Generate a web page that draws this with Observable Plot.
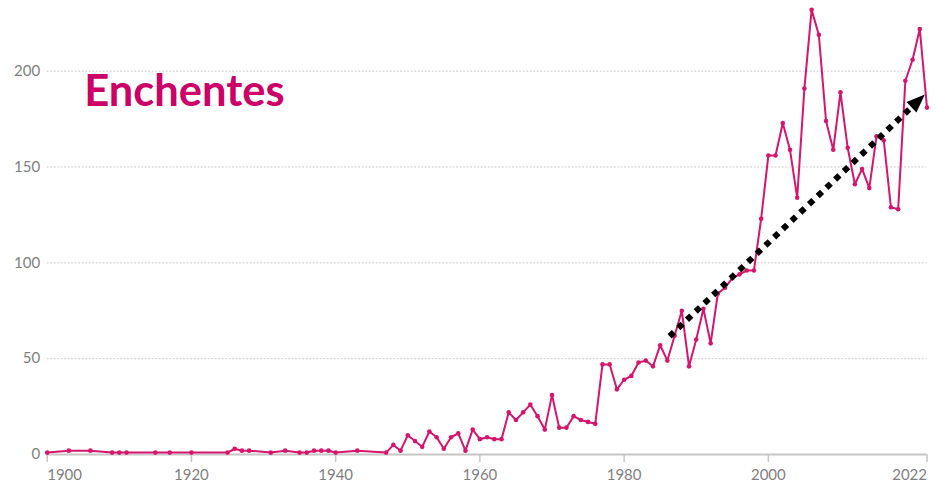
<!DOCTYPE html>
<html>
<head>
<meta charset="utf-8">
<script src="https://cdn.jsdelivr.net/npm/d3@7"></script>
<script src="https://cdn.jsdelivr.net/npm/@observablehq/plot@0.6"></script>
<style>
  html, body { margin: 0; padding: 0; background: #fff; }
  #chart { width: 936px; height: 485px; }
</style>
</head>
<body>
<div id="chart"></div>
<script>
// Número de enchentes registradas por ano
const years = [
  1900, 1903, 1906, 1909, 1910, 1911, 1915, 1917, 1920, 1925, 1926, 1927, 1928,
  1931, 1933, 1935, 1936, 1937, 1938, 1939, 1940, 1943, 1947, 1948, 1949,
  1950, 1951, 1952, 1953, 1954, 1955, 1956, 1957, 1958, 1959,
  1960, 1961, 1962, 1963, 1964, 1965, 1966, 1967, 1968, 1969,
  1970, 1971, 1972, 1973, 1974, 1975, 1976, 1977, 1978, 1979,
  1980, 1981, 1982, 1983, 1984, 1985, 1986, 1987, 1988, 1989,
  1990, 1991, 1992, 1993, 1994, 1995, 1996, 1997, 1998, 1999,
  2000, 2001, 2002, 2003, 2004, 2005, 2006, 2007, 2008, 2009,
  2010, 2011, 2012, 2013, 2014, 2015, 2016, 2017, 2018, 2019,
  2020, 2021, 2022
];
const floods = [
  1, 2, 2, 1, 1, 1, 1, 1, 1, 1, 3, 2, 2,
  1, 2, 1, 1, 2, 2, 2, 1, 2, 1, 5, 2,
  10, 7, 4, 12, 9, 3, 9, 11, 2, 13,
  8, 9, 8, 8, 22, 18, 22, 26, 20, 13,
  31, 14, 14, 20, 18, 17, 16, 47, 47, 34,
  39, 41, 48, 49, 46, 57, 49, 62, 75, 46,
  60, 76, 58, 84, 87, 92, 94, 96, 96, 123,
  156, 156, 173, 159, 134, 191, 232, 219, 174, 159,
  189, 160, 141, 149, 139, 166, 164, 129, 128, 195,
  206, 222, 181
];

const xTicks = [1900, 1920, 1940, 1960, 1980, 2000, 2022];
const yTicks = [0, 50, 100, 150, 200];
const gridTicks = [50, 100, 150, 200];

// Seta de tendência (início e ponta)
const trendYears = [1986.3, 2021.7];
const trendValues = [61.7, 187.8];

const title = "Enchentes";

const lineColor = "#d6156d";
const titleColor = "#cc0066";
const labelColor = "#7f7f7f";
const axisColor = "#c6c6c6";
const labelSize = 15;

const data = years.map((year, i) => ({year, value: floods[i]}));

const layout = {
  width: 936,
  height: 485,
  marginLeft: 46.7,
  marginRight: 9.5,
  marginTop: 70.7,
  marginBottom: 31,
  x: {domain: [1900, 2022]},
  y: {domain: [0, 200]},
  style: {fontFamily: "Lato, sans-serif", fontSize: "15px", background: "#fff"}
};

// Scales alone, to orient the arrow head in screen space
const probe = Plot.plot({...layout, marks: []});
const sx = probe.scale("x"), sy = probe.scale("y");
const px0 = sx.apply(trendYears[0]), py0 = sy.apply(trendValues[0]);
const px1 = sx.apply(trendYears[1]), py1 = sy.apply(trendValues[1]);
const angle = Math.atan2(py1 - py0, px1 - px0);
const headLen = 18.4, headHalf = 7.2;
const shaftEnd = {
  year: sx.invert(px1 - Math.cos(angle) * headLen * 0.85),
  value: sy.invert(py1 - Math.sin(angle) * headLen * 0.85)
};

// Filled arrow head with its tip at the origin, pointing along +x
const arrowHead = {
  draw(ctx) {
    ctx.moveTo(0, 0);
    ctx.lineTo(-headLen, -headHalf);
    ctx.lineTo(-headLen, headHalf);
    ctx.closePath();
  }
};

const yearFormat = (d) => String(d);
const xAxisStyle = {
  tickSize: 8, tickPadding: 7, stroke: axisColor, strokeWidth: 1.5,
  fill: labelColor, fontSize: labelSize, tickFormat: yearFormat, label: null
};

const chart = Plot.plot({
  ...layout,
  marks: [
    Plot.ruleY(gridTicks, {stroke: "#cfcfcf", strokeWidth: 1, strokeDasharray: "2,1.5"}),
    Plot.ruleY([0], {stroke: axisColor, strokeWidth: 2}),
    Plot.axisY(yTicks, {tickSize: 0, tickPadding: 7, fill: labelColor, fontSize: labelSize, label: null}),
    Plot.axisX(xTicks.slice(0, 1), {...xAxisStyle, textAnchor: "start"}),
    Plot.axisX(xTicks.slice(1, -1), xAxisStyle),
    Plot.axisX(xTicks.slice(-1), {...xAxisStyle, textAnchor: "end"}),
    Plot.line(data, {x: "year", y: "value", stroke: lineColor, strokeWidth: 2, strokeLinejoin: "round"}),
    Plot.dot(data, {x: "year", y: "value", r: 2.3, fill: lineColor}),
    Plot.link([0], {
      x1: () => trendYears[0], y1: () => trendValues[0],
      x2: () => shaftEnd.year, y2: () => shaftEnd.value,
      stroke: "#000", strokeWidth: 6, strokeDasharray: "6,6", strokeLinecap: "butt"
    }),
    Plot.dot([0], {
      x: () => trendYears[1], y: () => trendValues[1],
      symbol: arrowHead, fill: "#000", stroke: "none",
      rotate: angle * 180 / Math.PI
    }),
    Plot.text([title], {
      frameAnchor: "top-left", textAnchor: "start", lineAnchor: "top",
      dx: 37, dy: 4, fontSize: 43.5, fontWeight: 700, fill: titleColor,
      fontFamily: "Lato, sans-serif"
    })
  ]
});

document.getElementById("chart").appendChild(chart);
</script>
</body>
</html>
